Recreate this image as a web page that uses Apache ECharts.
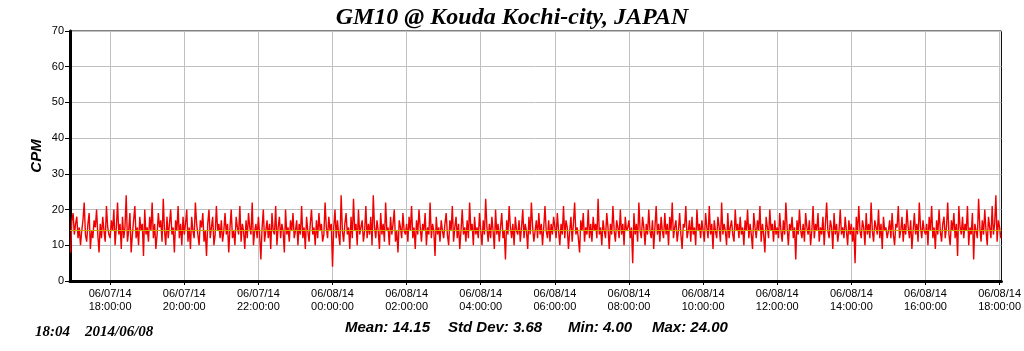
<!DOCTYPE html>
<html>
<head>
<meta charset="utf-8">
<script src="https://cdn.jsdelivr.net/npm/echarts@6/dist/echarts.min.js"></script>
<style>
  html, body { margin: 0; padding: 0; background: #fff; }
  #chart { width: 1024px; height: 351px; }
</style>
</head>
<body>
<div id="chart"></div>
<script>
// minutes counted from 06/07/14 00:00
const startMinute = 1016 // 06/07 16:56
const stepMinutes = 2
const axisMin = 1015
const axisMax = 2523

const tickMinutes = [1080, 1200, 1320, 1440, 1560, 1680, 1800, 1920, 2040, 2160, 2280, 2400, 2520]
const tickLabels = [
  '06/07/14\n18:00:00', '06/07/14\n20:00:00', '06/07/14\n22:00:00',
  '06/08/14\n00:00:00', '06/08/14\n02:00:00', '06/08/14\n04:00:00',
  '06/08/14\n06:00:00', '06/08/14\n08:00:00', '06/08/14\n10:00:00',
  '06/08/14\n12:00:00', '06/08/14\n14:00:00', '06/08/14\n16:00:00',
  '06/08/14\n18:00:00'
]

// CPM, one reading per 2 minutes, one row per hour
const cpm = [
  8, 17,
  19, 13, 16, 18, 12, 15, 10, 14, 17, 22, 13, 11, 16, 19, 9, 14, 12, 17, 15, 20, 13, 8, 16, 12, 18, 14, 11, 21, 15, 13,
  12, 17, 14, 20, 10, 15, 22, 13, 16, 9, 18, 12, 15, 24, 11, 14, 19, 8, 13, 17, 21, 12, 15, 10, 18, 14, 16, 7, 20, 13,
  15, 11, 18, 14, 22, 12, 16, 9, 13, 19, 15, 17, 11, 23, 14, 10, 18, 12, 16, 20, 13, 15, 8, 17, 14, 21, 12, 16, 10, 18,
  13, 16, 20, 11, 15, 9, 18, 14, 12, 22, 16, 13, 10, 17, 15, 19, 11, 14, 7, 16, 20, 12, 15, 18, 10, 13, 21, 14, 16, 12,
  17, 11, 14, 19, 13, 16, 8, 15, 20, 12, 14, 10, 18, 15, 13, 21, 11, 16, 14, 9, 17, 12, 19, 15, 13, 22, 10, 14, 16, 12,
  18, 13, 6, 15, 20, 11, 14, 17, 12, 16, 9, 19, 14, 13, 21, 10, 15, 18, 12, 16, 14, 8, 20, 13, 15, 11, 17, 14, 19, 12,
  14, 17, 10, 16, 13, 21, 12, 15, 9, 18, 14, 11, 16, 20, 13, 15, 10, 17, 12, 19, 14, 16, 11, 13, 22, 15, 12, 18, 14, 16,
  4, 15, 20, 12, 17, 13, 10, 24, 14, 11, 16, 19, 13, 15, 9, 18, 12, 23, 14, 16, 10, 20, 13, 15, 17, 11, 14, 21, 12, 16,
  13, 18, 10, 24, 15, 12, 17, 14, 9, 19, 13, 16, 11, 22, 14, 15, 10, 18, 13, 16, 20, 11, 14, 8, 17, 15, 12, 19, 14, 13,
  16, 11, 18, 14, 21, 12, 15, 9, 17, 13, 20, 15, 11, 16, 14, 19, 10, 15, 13, 22, 12, 16, 14, 7, 18, 13, 15, 11, 17, 14,
  12, 16, 19, 13, 10, 17, 14, 21, 11, 15, 18, 12, 16, 9, 14, 20, 13, 15, 11, 17, 12, 22, 14, 16, 10, 18, 13, 15, 12, 19,
  14, 10, 17, 13, 23, 15, 11, 16, 12, 18, 14, 9, 20, 13, 16, 11, 15, 19, 12, 14, 6, 17, 13, 21, 15, 12, 16, 10, 18, 14,
  13, 17, 11, 15, 20, 12, 16, 14, 9, 18, 13, 22, 15, 11, 14, 17, 12, 19, 13, 16, 10, 15, 21, 14, 12, 17, 11, 16, 13, 18,
  15, 12, 19, 14, 10, 16, 13, 21, 12, 17, 15, 9, 14, 18, 11, 16, 22, 13, 15, 12, 8, 17, 14, 19, 11, 15, 13, 20, 12, 16,
  11, 18, 14, 16, 12, 23, 13, 15, 10, 17, 14, 12, 19, 15, 9, 16, 13, 21, 14, 11, 17, 15, 12, 20, 13, 16, 10, 18, 14, 15,
  17, 12, 15, 5, 19, 13, 16, 11, 22, 14, 12, 18, 15, 10, 16, 13, 20, 14, 12, 17, 9, 15, 21, 13, 16, 11, 18, 14, 12, 19,
  13, 16, 10, 18, 14, 22, 12, 15, 17, 11, 14, 19, 13, 9, 16, 15, 21, 12, 14, 17, 11, 18, 13, 15, 10, 20, 14, 16, 12, 17,
  14, 11, 19, 15, 12, 21, 13, 16, 9, 17, 14, 12, 18, 15, 11, 22, 13, 16, 14, 10, 19, 12, 15, 17, 13, 11, 20, 14, 16, 12,
  18, 13, 15, 10, 17, 14, 20, 12, 16, 13, 9, 19, 15, 12, 17, 14, 21, 11, 16, 13, 8, 18, 15, 12, 20, 14, 16, 11, 17, 13,
  15, 12, 19, 14, 11, 17, 13, 22, 15, 10, 16, 14, 18, 12, 15, 6, 17, 13, 20, 14, 12, 16, 11, 19, 15, 13, 17, 10, 14, 21,
  12, 16, 14, 19, 11, 15, 13, 18, 10, 16, 22, 14, 12, 17, 15, 9, 19, 13, 16, 11, 14, 20, 13, 15, 12, 18, 14, 10, 17, 13,
  16, 11, 15, 5, 18, 13, 21, 14, 12, 17, 15, 10, 19, 13, 16, 12, 22, 14, 11, 17, 15, 13, 20, 12, 16, 9, 18, 14, 15, 12,
  14, 17, 12, 19, 13, 10, 16, 15, 21, 12, 14, 18, 11, 16, 13, 20, 15, 12, 17, 9, 14, 19, 13, 16, 11, 22, 15, 12, 17, 14,
  13, 16, 10, 18, 14, 21, 12, 15, 9, 17, 13, 20, 14, 11, 16, 18, 12, 15, 22, 13, 10, 17, 14, 19, 12, 16, 7, 21, 15, 13,
  18, 12, 16, 14, 21, 10, 15, 13, 19, 6, 16, 14, 12, 23, 15, 11, 17, 13, 20, 14, 10, 18, 15, 12, 21, 13, 16, 24, 11, 17,
  15, 12
]

const meanValue = 14.15
const statTexts = ['Mean: 14.15', 'Std Dev: 3.68', 'Min: 4.00', 'Max: 24.00']
const statLeft = [345, 448, 568, 652]

const chart = echarts.init(document.getElementById('chart'))

const lineData = cpm.map((v, i) => [startMinute + i * stepMinutes, v])

chart.setOption({
  animation: false,
  title: {
    text: 'GM10 @ Kouda Kochi-city, JAPAN',
    left: 'center',
    top: 1,
    textStyle: {
      fontFamily: 'Liberation Serif',
      fontStyle: 'italic',
      fontWeight: 'bold',
      fontSize: 24,
      color: '#000'
    }
  },
  grid: {
    left: 70,
    right: 21,
    top: 31,
    bottom: 70,
    show: true,
    borderColor: '#000',
    borderWidth: 1
  },
  xAxis: {
    type: 'value',
    min: axisMin,
    max: axisMax,
    axisLine: { show: true, onZero: false, lineStyle: { color: '#000', width: 3 } },
    axisTick: { show: true, length: 4, customValues: tickMinutes, lineStyle: { color: '#000' } },
    axisLabel: {
      customValues: tickMinutes,
      formatter: v => tickLabels[tickMinutes.indexOf(v)],
      fontFamily: 'Liberation Sans',
      fontSize: 11,
      lineHeight: 13,
      color: '#000',
      margin: 6
    },
    splitLine: { show: true, lineStyle: { color: '#c0c0c0', width: 1 } }
  },
  yAxis: {
    type: 'value',
    min: 0,
    max: 70,
    interval: 10,
    axisLine: { show: true, lineStyle: { color: '#000', width: 3 } },
    axisTick: { show: true, length: 5, lineStyle: { color: '#000' } },
    axisLabel: { fontFamily: 'Liberation Sans', fontSize: 11, color: '#000', margin: 6 },
    splitLine: { show: true, lineStyle: { color: '#c0c0c0', width: 1 } }
  },
  series: [{
    type: 'line',
    data: [],
    z: 1,
    markLine: {
      silent: true,
      symbol: 'none',
      label: { show: false },
      lineStyle: { color: '#d4a400', width: 1, type: 'solid' },
      data: [{ yAxis: meanValue }]
    }
  }, {
    type: 'line',
    data: lineData,
    z: 2,
    showSymbol: false,
    symbol: 'none',
    lineStyle: { color: '#f00000', width: 1.4 }
  }],
  graphic: [{
    type: 'text',
    x: 37,
    y: 156,
    rotation: Math.PI / 2,
    style: {
      text: 'CPM',
      font: 'italic bold 15px "Liberation Sans"',
      fill: '#000',
      align: 'center',
      verticalAlign: 'middle'
    }
  }, {
    type: 'text',
    left: 35,
    top: 325,
    style: {
      text: '18:04    2014/06/08',
      font: 'italic bold 15px "Liberation Serif"',
      fill: '#000'
    }
  }].concat(statTexts.map((t, i) => ({
    type: 'text',
    left: statLeft[i],
    top: 320,
    style: {
      text: t,
      font: 'italic bold 15px "Liberation Sans"',
      fill: '#000'
    }
  })))
})
</script>
</body>
</html>
